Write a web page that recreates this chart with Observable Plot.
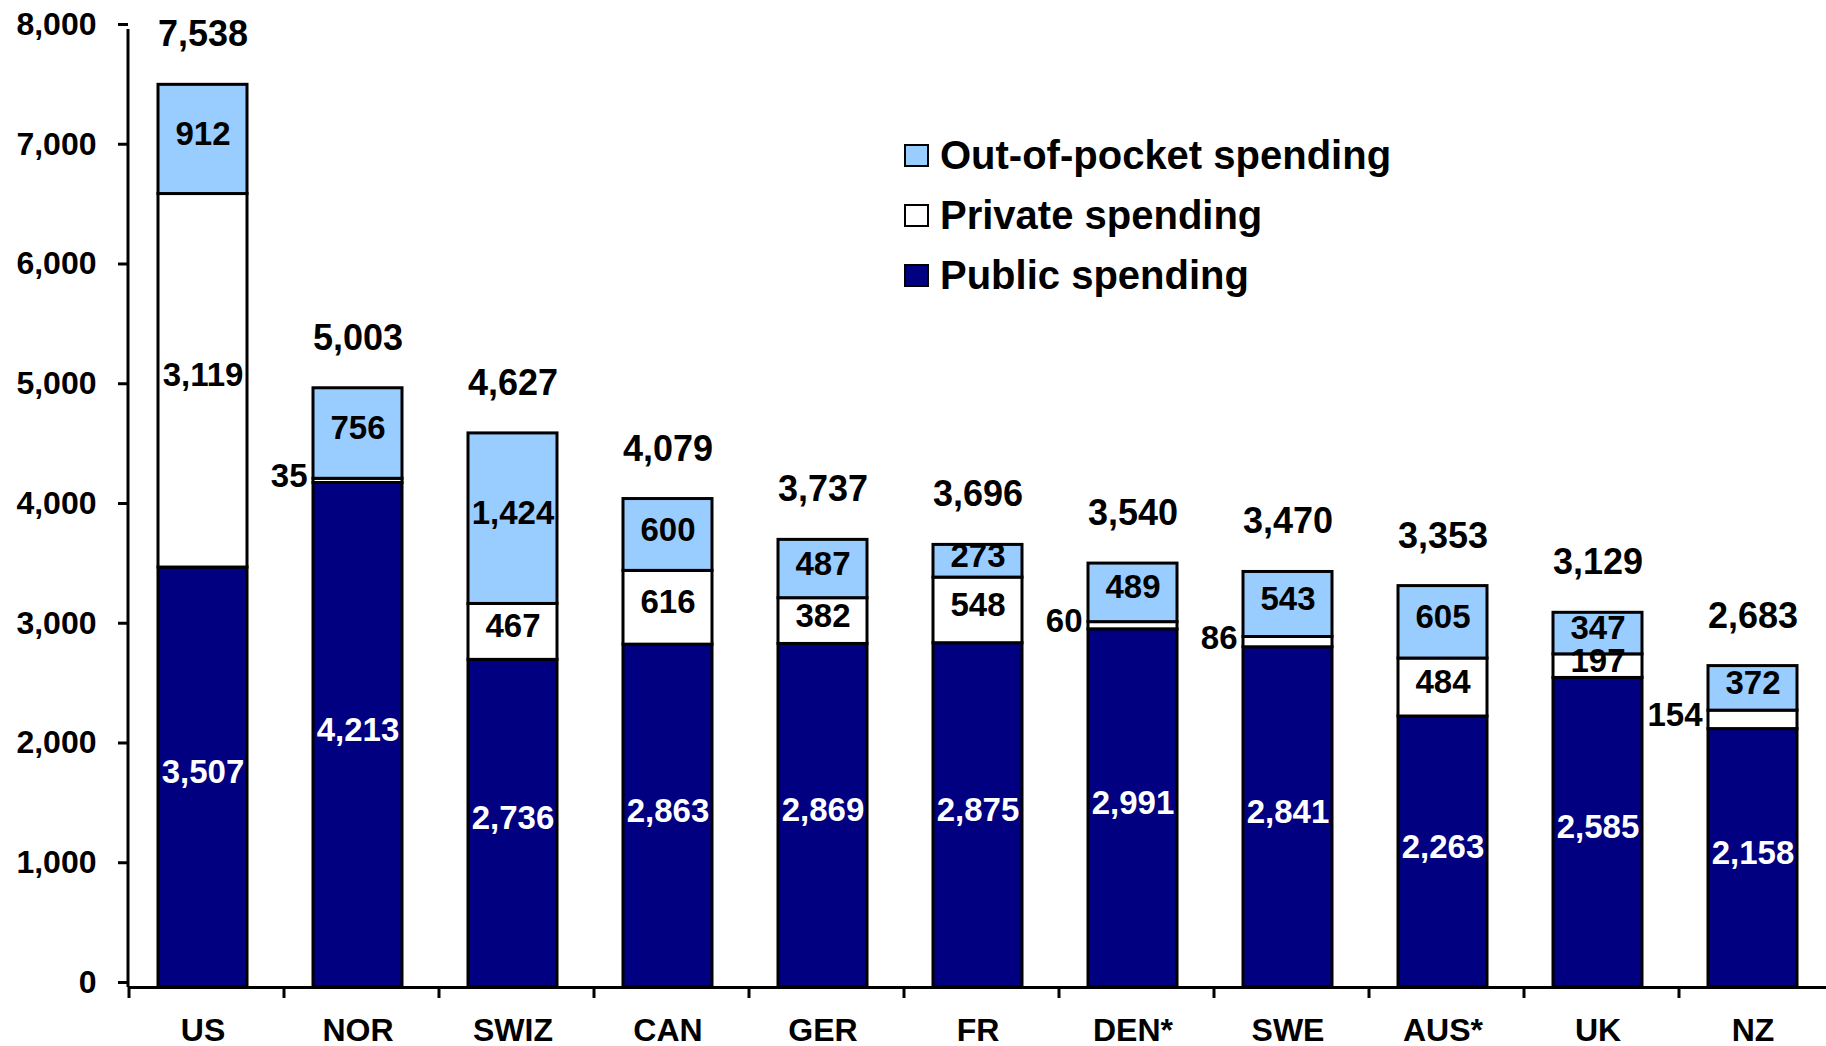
<!DOCTYPE html>
<html><head><meta charset="utf-8">
<script src="https://cdn.jsdelivr.net/npm/d3@7"></script>
<script src="https://cdn.jsdelivr.net/npm/@observablehq/plot@0.6"></script>
<style>
body{margin:0;background:#fff;font-family:"Liberation Sans",Arial,sans-serif;}
#wrap{position:relative;width:1826px;height:1046px;}
#legend{position:absolute;left:904px;top:125px;font-weight:bold;font-size:40px;color:#000;}
.row{display:flex;align-items:center;height:60px;white-space:nowrap;}
.sw{width:21px;height:19px;border:2px solid #000;margin-right:11px;box-sizing:content-box;}
</style></head><body><div id="wrap"></div>
<script>
const countries = ["US","NOR","SWIZ","CAN","GER","FR","DEN*","SWE","AUS*","UK","NZ"];
const publicSpending = [3507,4213,2736,2863,2869,2875,2991,2841,2263,2585,2158];
const privateSpending = [3119,35,467,616,382,548,60,86,484,197,154];
const outOfPocket = [912,756,1424,600,487,273,489,543,605,347,372];
const totals = [7538,5003,4627,4079,3737,3696,3540,3470,3353,3129,2683];
const seriesNames = ["Public spending","Private spending","Out-of-pocket spending"];
const seriesColors = ["#000080","#ffffff","#99ccff"];
const yTicks = [0,1000,2000,3000,4000,5000,6000,7000,8000];

const seriesValues = [publicSpending, privateSpending, outOfPocket];
const rows = [];
countries.forEach((c, i) => {
  seriesNames.forEach((s, k) => rows.push({country: c, idx: i, series: s, value: seriesValues[k][i]}));
});
const fmt = d3.format(",");
const PAD = 0.426;
const SHIFT = -4;
const FONT = "Liberation Sans, Arial, sans-serif";

const small = d => d.series === "Private spending" && d.value < 170;
const stackOpts = {x: "country", y: "value", z: "series", order: seriesNames};

const axisLines = (index, scales, values, dims) => {
  const g = d3.create("svg:g");
  const x = scales.x, y = scales.y;
  const step = x(countries[1]) - x(countries[0]);
  const bw = x.bandwidth ? x.bandwidth() : step * (1 - PAD);
  const y0 = y(0), yTop = y(8000);
  g.append("line").attr("x1", dims.marginLeft).attr("x2", dims.marginLeft)
    .attr("y1", yTop).attr("y2", y0).attr("stroke", "#000").attr("stroke-width", 3);
  countries.forEach(c => {
    const bx = x(c) + bw / 2 - step / 2;
    g.append("line").attr("x1", bx).attr("x2", bx).attr("y1", y0).attr("y2", y0 + 11)
      .attr("stroke", "#000").attr("stroke-width", 3);
  });
  return g.node();
};

const plot = Plot.plot({
  width: 1826,
  height: 1046,
  marginLeft: 128,
  marginRight: 0,
  marginTop: 29,
  marginBottom: 59,
  style: {fontFamily: FONT, background: "#fff", overflow: "visible"},
  x: {type: "band", domain: countries, range: [128, 1834], paddingInner: PAD, paddingOuter: PAD / 2, label: null},
  y: {domain: [0, 8000], label: null},
  color: {domain: seriesNames, range: seriesColors},
  marks: [
    Plot.barY(rows, Plot.stackY({...stackOpts, fill: "series", stroke: "#000", strokeWidth: 3, dx: SHIFT})),
    Plot.text(rows, Plot.stackY({...stackOpts, text: d => d.series === "Public spending" ? fmt(d.value) : null,
      fill: "#fff", fontSize: 33, fontWeight: "bold", dx: SHIFT, dy: -5})),
    Plot.text(rows, Plot.stackY({...stackOpts, text: d => (d.series !== "Public spending" && !small(d)) ? fmt(d.value) : null,
      fill: "#000", fontSize: 33, fontWeight: "bold", dx: SHIFT, dy: -5})),
    Plot.text(rows, Plot.stackY({...stackOpts, text: d => small(d) ? fmt(d.value) : null,
      fill: "#000", fontSize: 33, fontWeight: "bold", textAnchor: "end", dx: SHIFT - 44.5 - 6, dy: -4})),
    Plot.text(rows, Plot.stackY2({...stackOpts, text: d => d.series === "Out-of-pocket spending" ? fmt(totals[d.idx]) : null,
      fill: "#000", fontSize: 36, fontWeight: "bold", dx: SHIFT, dy: -50})),
    Plot.ruleY([0], {stroke: "#000", strokeWidth: 3}),
    Plot.axisY({ticks: yTicks, tickFormat: d3.format(","), tickSize: 10, tickPadding: 22, fontSize: 32, fontWeight: "bold", strokeWidth: 3, dy: -5, label: null}),
    Plot.axisX({tickSize: 0, tickPadding: 31, fontSize: 32, fontWeight: "bold", dx: SHIFT, label: null}),
    axisLines
  ]
});

const wrap = document.getElementById("wrap");
wrap.appendChild(plot);
const legend = document.createElement("div");
legend.id = "legend";
[2, 1, 0].forEach(k => {
  const row = document.createElement("div");
  row.className = "row";
  const sw = document.createElement("div");
  sw.className = "sw";
  sw.style.background = seriesColors[k];
  const t = document.createElement("span");
  t.textContent = seriesNames[k];
  row.appendChild(sw); row.appendChild(t);
  legend.appendChild(row);
});
wrap.appendChild(legend);
</script></body></html>
